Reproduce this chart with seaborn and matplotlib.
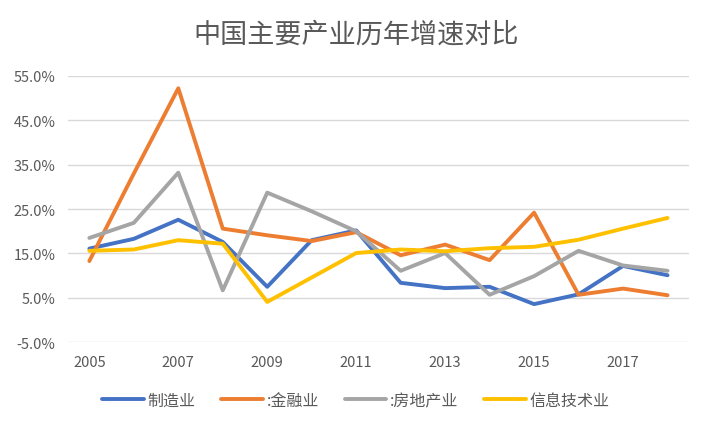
import matplotlib
matplotlib.use("Agg")
import matplotlib.pyplot as plt
import seaborn as sns
import pandas as pd
from matplotlib.ticker import FuncFormatter

years = list(range(2005, 2019))
manufacturing = [16.1, 18.3, 22.6, 17.6, 7.5, 18.0, 20.2, 8.4, 7.2, 7.5, 3.6, 5.8, 12.2, 10.1]
finance = [13.3, 33.0, 52.2, 20.6, 19.1, 17.8, 19.8, 14.6, 17.0, 13.5, 24.2, 5.7, 7.1, 5.6]
real_estate = [18.5, 21.9, 33.2, 6.7, 28.7, 24.5, 20.0, 11.1, 15.1, 5.7, 9.9, 15.6, 12.3, 11.1]
info_tech = [15.6, 15.9, 18.0, 17.2, 4.1, 9.6, 15.1, 15.9, 15.5, 16.2, 16.5, 18.1, 20.6, 23.0]
series_names = ["制造业", ":金融业", ":房地产业", "信息技术业"]
colors = ["#4472C4", "#ED7D31", "#A5A5A5", "#FFC000"]
title = "中国主要产业历年增速对比"
y_ticks = [-5, 5, 15, 25, 35, 45, 55]
x_ticks = list(range(2005, 2019, 2))

rows = []
for name, vals in zip(series_names, [manufacturing, finance, real_estate, info_tech]):
    for y, v in zip(years, vals):
        rows.append({"year": y, "value": v, "series": name})
df = pd.DataFrame(rows)

sns.set_theme(style="white")
plt.rcParams["font.family"] = ["Noto Sans CJK SC", "DejaVu Sans"]

fig = plt.figure(figsize=(7.12, 4.27), dpi=100)
ax = fig.add_axes([0.0955, 0.196, 0.872, 0.624])
sns.lineplot(data=df, x="year", y="value", hue="series", hue_order=series_names,
             palette=colors, linewidth=2.8, ax=ax, legend=False)

ax.set_xlim(2004.52, 2018.48)
ax.set_ylim(-5, 55)
ax.set_yticks(y_ticks)
ax.yaxis.set_major_formatter(FuncFormatter(lambda v, p: f"{v:.1f}%"))
ax.set_xticks(x_ticks)
ax.grid(axis="y", color="#D9D9D9", linewidth=1)
ax.set_axisbelow(True)
for s in ax.spines.values():
    s.set_visible(False)
ax.tick_params(axis="both", length=0, labelsize=10.5, colors="#595959")
ax.tick_params(axis="y", pad=9)
ax.tick_params(axis="x", pad=9)
ax.set_xlabel("")
ax.set_ylabel("")

fig.text(0.5, 0.918, title, ha="center", va="center", fontsize=19.5, color="#595959")

handles = [plt.Line2D([0], [0], color=c, linewidth=2.8, solid_capstyle="round") for c in colors]
fig.legend(handles, series_names, loc="center", bbox_to_anchor=(0.5, 0.06), ncol=4,
           frameon=False, fontsize=11.5, handlelength=2.6, handletextpad=0.25, columnspacing=1.6,
           labelcolor="#595959")

fig.savefig("out.png", dpi=100)
